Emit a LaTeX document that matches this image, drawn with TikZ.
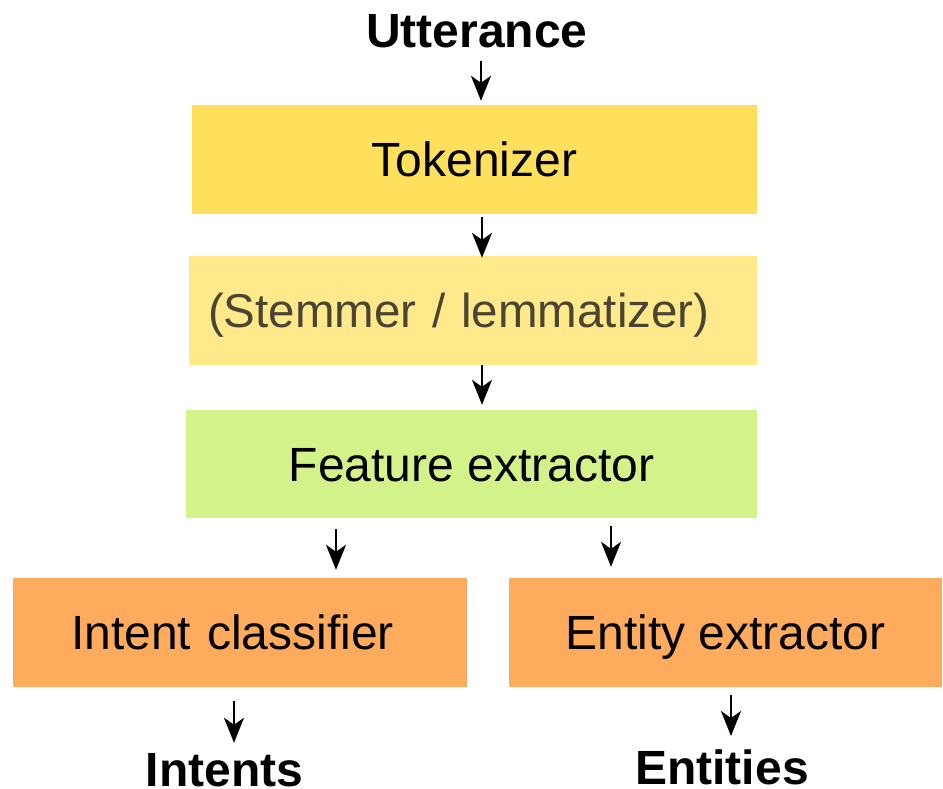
\documentclass[tikz,border=0pt]{standalone}
\usepackage{fontspec}
\setmainfont{Liberation Sans}
\usetikzlibrary{arrows.meta}

\definecolor{tokfill}{HTML}{FFE05C}
\definecolor{stemfill}{HTML}{FFE98A}
\definecolor{stemtext}{HTML}{4A4432}
\definecolor{featfill}{HTML}{D4F28A}
\definecolor{clsfill}{HTML}{FFAB5E}

\begin{document}
\begin{tikzpicture}[x=1pt, y=-1pt, font=\fontsize{48}{56}\selectfont,
  box/.style={rectangle, inner sep=0pt, minimum height=109pt,
    text height=34pt, text depth=0pt},
  title/.style={inner sep=0pt, anchor=base,
    font=\fontsize{48}{56}\selectfont\bfseries},
  arr/.style={line width=2pt, -{Stealth[length=25pt,width=20pt,inset=7pt]}}]
  \useasboundingbox (0,0) rectangle (943,788);
  % --- pipeline boxes ---
  \node[title] (utt) at (477,47) {Utterance};
  \node[box, fill=tokfill, minimum width=565pt] (tok) at (474.5,159.5) {Tokenizer};
  \node[box, fill=stemfill, text=stemtext, inner xsep=19pt, text width=530pt,
    align=left, font=\fontsize{47.5}{56}\selectfont] (stem)
    at (473,310.5) {(Stemmer / lemmatizer)};
  \node[box, fill=featfill, minimum width=571pt, minimum height=108pt] (feat)
    at (471.5,464) {Feature extractor};
  \node[box, fill=clsfill, inner xsep=58pt, text width=338pt, align=left] (intent)
    at (240,632.5) {Intent classifier};
  \node[box, fill=clsfill, minimum width=433pt] (entity) at (725.5,632.5) {Entity extractor};
  % --- outputs ---
  \node[title] (intents) at (224.5,786) {Intents};
  \node[title] (entities) at (722,784) {Entities};
  % --- arrows ---
  \draw[arr, shorten <=13pt, shorten >=4pt] (utt.south -| 481,0) -- (tok.north -| 481,0);
  \draw[arr, shorten <=3pt, shorten >=-2pt] (tok.south -| 482,0) -- (stem.north -| 482,0);
  \draw[arr, shorten <=0pt, shorten >=5pt] (stem.south -| 482,0) -- (feat.north -| 482,0);
  \draw[arr, shorten <=11pt, shorten >=8pt] (feat.south -| 336,0) -- (intent.north -| 336,0);
  \draw[arr, shorten <=8pt, shorten >=11pt] (feat.south -| 611,0) -- (entity.north -| 611,0);
  \draw[arr, shorten <=14pt, shorten >=10pt] (intent.south -| 234,0) -- (intents.north -| 234,0);
  \draw[arr, shorten <=8pt, shorten >=13pt] (entity.south -| 731,0) -- (entities.north -| 731,0);
\end{tikzpicture}
\end{document}
